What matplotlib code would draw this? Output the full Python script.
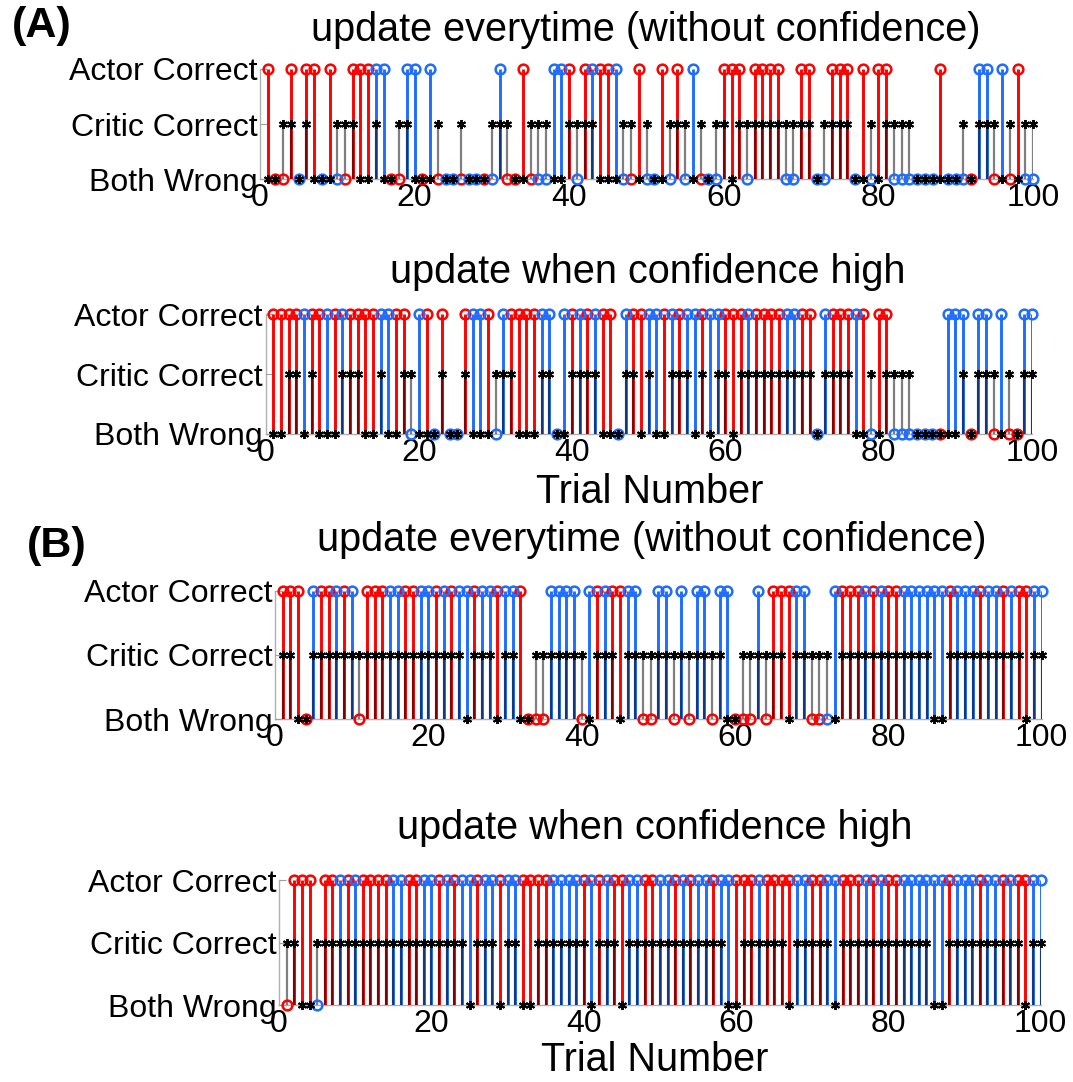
import numpy as np
import matplotlib
matplotlib.use("Agg")
import matplotlib.pyplot as plt

plt.rcParams['font.family'] = ['Liberation Sans', 'DejaVu Sans']

# -----------------------------
# Data (trial numbers 1..100)
# -----------------------------
trials = np.arange(1, 101)

# stimulus colour of each trial (same sequence in every panel)
red_trials = [1, 2, 3, 4, 6, 7, 9, 11, 12, 13, 14, 17, 18, 21, 23, 26, 29, 32, 33, 34,
              35, 40, 42, 44, 45, 48, 49, 52, 54, 57, 60, 61, 62, 64, 65, 66, 67, 70, 71,
              74, 75, 76, 78, 80, 81, 88, 92, 95, 97, 98]

# trials where the actor was wrong
actor_wrong_A1 = [2, 3, 5, 8, 10, 11, 17, 18, 21, 23, 24, 25, 26, 27, 28, 29, 30, 32, 33,
                  35, 36, 37, 41, 47, 48, 50, 51, 53, 55, 57, 58, 59, 63, 68, 69, 72, 73,
                  77, 79, 82, 83, 84, 85, 86, 87, 89, 90, 91, 92, 95, 97, 99, 100]
actor_wrong_A2 = [19, 22, 24, 25, 30, 38, 46, 72, 79, 82, 83, 84, 85, 86, 87, 88, 92, 95,
                  97, 98]
actor_wrong_B1 = [4, 11, 33, 34, 35, 40, 48, 49, 52, 54, 57, 60, 61, 62, 64, 70, 71, 72]
actor_wrong_B2 = [1, 5]

# trials where the critic was wrong
critic_wrong_A1 = [1, 2, 5, 7, 8, 9, 13, 14, 16, 17, 20, 21, 22, 24, 25, 27, 28, 29, 33,
                   34, 38, 39, 44, 45, 46, 49, 51, 52, 56, 58, 61, 72, 77, 78, 80, 85, 86,
                   87, 88, 89, 90, 92, 96, 98]
critic_wrong_A2 = [1, 2, 5, 7, 8, 9, 13, 14, 16, 17, 20, 21, 22, 24, 25, 27, 28, 29, 33,
                   34, 35, 38, 39, 44, 45, 46, 49, 51, 52, 56, 58, 61, 72, 77, 78, 80, 85,
                   86, 87, 88, 89, 90, 92, 96, 98]
critic_wrong_B1 = [3, 4, 25, 29, 32, 33, 41, 45, 59, 60, 67, 73, 86, 87, 98]
critic_wrong_B2 = [3, 4, 25, 29, 32, 33, 41, 45, 59, 60, 67, 73, 86, 87, 98]

ytick_labels = ["Both Wrong", "Critic Correct", "Actor Correct"]
titles = ["update everytime (without confidence)", "update when confidence high",
          "update everytime (without confidence)", "update when confidence high"]

RED = "#ff0000"
BLUE = "#1f6dff"

W, H = 1073, 1082
fig = plt.figure(figsize=(W / 100, H / 100), dpi=100)


def px_axes(x0, x100, ytop, ybot):
    return fig.add_axes([x0 / W, 1 - ybot / H, (x100 - x0) / W, (ybot - ytop) / H])


def draw_panel(ax, actor_wrong, critic_wrong):
    actor = np.where(np.isin(trials, actor_wrong), 0, 2)
    critic = np.where(np.isin(trials, critic_wrong), 0, 1)
    colors = np.where(np.isin(trials, red_trials), RED, BLUE)

    # actor stems
    up = actor > 0
    ax.vlines(trials[up], 0, actor[up], colors=colors[up], lw=2.1, zorder=2)
    # critic stems (semi-transparent black on top)
    cu = critic > 0
    ax.vlines(trials[cu], 0, critic[cu], colors="black", alpha=0.5, lw=1.6, zorder=3)
    # actor markers
    for c in (RED, BLUE):
        m = colors == c
        ax.plot(trials[m], actor[m], ls="none", marker="o", ms=7, mfc="none",
                mec=c, mew=1.8, clip_on=False, zorder=4)
    # critic markers
    ax.plot(trials, critic, ls="none", marker=(6, 2, 0), ms=6.5, mec="black",
            mew=1.4, clip_on=False, zorder=5)

    ax.set_xlim(0, 100)
    ax.set_ylim(0, 2)
    ax.set_yticks([0, 1, 2])
    ax.set_yticklabels(ytick_labels)
    ax.set_xticks(range(0, 101, 20))
    ax.tick_params(axis="y", direction="in", length=5, color="#a0a0a0", pad=2,
                   labelsize=23)
    ax.tick_params(axis="x", length=0, pad=3, labelsize=23)
    for s in ("top", "right"):
        ax.spines[s].set_visible(False)
    for s in ("left", "bottom"):
        ax.spines[s].set_color("#b0b0b0")
        ax.spines[s].set_linewidth(1.0)
        ax.spines[s].set_zorder(1)


# -----------------------------
# Panels
# -----------------------------
ax1 = px_axes(260, 1033, 69, 179)
draw_panel(ax1, actor_wrong_A1, critic_wrong_A1)
ax2 = px_axes(265.6, 1032, 314, 434)
draw_panel(ax2, actor_wrong_A2, critic_wrong_A2)
ax3 = px_axes(275, 1041.7, 591, 719)
draw_panel(ax3, actor_wrong_B1, critic_wrong_B1)
ax4 = px_axes(279.1, 1040.7, 880, 1005)
draw_panel(ax4, actor_wrong_B2, critic_wrong_B2)

for (x, y), t in zip([(646, 30), (648, 272), (652, 540), (655, 828)], titles):
    fig.text(x / W, 1 - y / H, t, ha="center", va="center", fontsize=28.5)

fig.text(650 / W, 1 - 492 / H, "Trial Number", ha="center", va="center", fontsize=28.5)
fig.text(655 / W, 1 - 1060 / H, "Trial Number", ha="center", va="center", fontsize=28.5)

fig.text(12 / W, 1 - 26 / H, "(A)", ha="left", va="center", fontsize=31, fontweight="bold")
fig.text(27 / W, 1 - 546 / H, "(B)", ha="left", va="center", fontsize=31, fontweight="bold")

fig.savefig("out.png", dpi=100)
